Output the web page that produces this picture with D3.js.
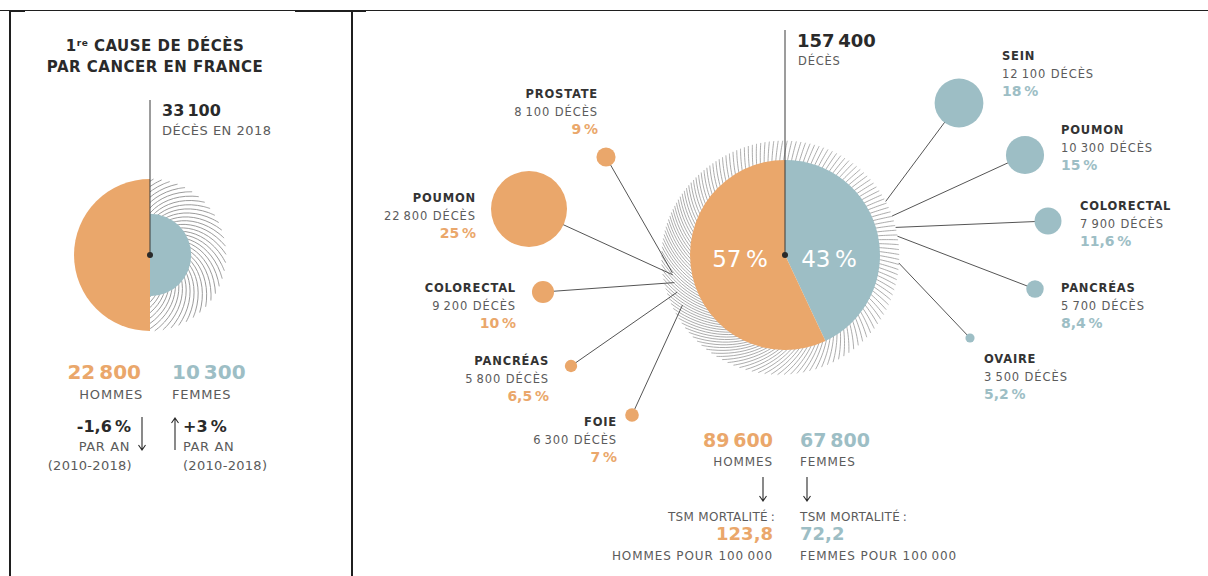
<!DOCTYPE html>
<html lang="fr">
<head>
<meta charset="utf-8">
<script src="https://cdn.jsdelivr.net/npm/d3@7"></script>
<style>
  html, body { margin: 0; padding: 0; background: #fff; }
  svg { display: block; font-family: "DejaVu Sans", sans-serif; }
</style>
</head>
<body>
<div id="chart"></div>
<script>
// ---- Données ----
// Cancer du poumon (1re cause de décès par cancer)
const poumonTotal = 33100;
const poumonSexe = [22800, 10300];          // hommes, femmes
const poumonEvolution = [-1.6, 3];          // % par an (2010-2018)

// Ensemble des décès par cancer
const totalDeces = 157400;
const sexes = ["HOMMES", "FEMMES"];
const decesSexe = [89600, 67800];
const partSexe = [57, 43];
const tsmMortalite = [123.8, 72.2];

// Principales localisations
const hommesSites = ["PROSTATE", "POUMON", "COLORECTAL", "PANCRÉAS", "FOIE"];
const hommesDeces = [8100, 22800, 9200, 5800, 6300];
const hommesPct = [9, 25, 10, 6.5, 7];
const femmesSites = ["SEIN", "POUMON", "COLORECTAL", "PANCRÉAS", "OVAIRE"];
const femmesDeces = [12100, 10300, 7900, 5700, 3500];
const femmesPct = [18, 15, 11.6, 8.4, 5.2];

// ---- Mise en page ----
const W = 1208, H = 576;
const ORANGE = "#EAA76B", BLEU = "#9DBEC5", NOIR = "#2a2a2a", GRIS = "#5b5b5b", HACH = "#909090";
const hommesPos = [[606, 157], [529, 209], [543, 292], [571, 366], [632, 415]];
const hommesAncre = [171, 170, 166, 161, 154];
const hommesTexte = [[598, 98], [476, 202], [516, 292], [549, 365], [617, 426]];
const femmesPos = [[959, 103], [1025, 155], [1048, 221], [1035, 289], [970, 338]];
const femmesAncre = [-28, -20, -14, -9.5, 4];
const femmesTexte = [[1002, 60], [1061, 134], [1080, 210], [1061, 292], [984, 363]];

const fr = d3.formatLocale({ decimal: ",", thousands: "\u202F", grouping: [3], currency: ["", " €"], minus: "-" });
const nb = fr.format(",d");
const pct = v => fr.format(".1~f")(v) + "\u202F%";
const signe = v => fr.format("+.1~f")(v) + "\u202F%";

const svg = d3.select("#chart").append("svg").attr("width", W).attr("height", H);

// ---- Cadre ----
const cadre = svg.append("g").attr("stroke", "#1f1f1f").attr("fill", "none");
cadre.append("line").attr("x1", 0).attr("x2", W).attr("y1", 10.5).attr("y2", 10.5).attr("stroke-width", 1);
[[10, 25], [295, 366]].forEach(([a, b]) =>
  cadre.append("line").attr("x1", a).attr("x2", b).attr("y1", 11).attr("y2", 11).attr("stroke-width", 2));
[10, 352].forEach(x =>
  cadre.append("line").attr("x1", x).attr("x2", x).attr("y1", 10).attr("y2", H).attr("stroke-width", 2));

// Helpers
function txt(g, x, y, s, o = {}) {
  return g.append("text").attr("x", x).attr("y", y).text(s)
    .attr("text-anchor", o.anchor || "start")
    .attr("fill", o.fill || NOIR)
    .attr("font-size", o.size || 12)
    .attr("font-weight", o.bold ? "bold" : "normal")
    .style("letter-spacing", (o.ls || 0) + "px");
}

// Traits vrillés formant la hachure autour des disques
function hachure(g, cx, cy, n, rIn, rOut, vrille, largeur) {
  const line = d3.line().curve(d3.curveCatmullRom);
  for (let i = 0; i < n; i++) {
    const th = 2 * Math.PI * i / n;
    const ro = rOut(th), tw = vrille(th);
    const pts = d3.range(0, 1.0001, 0.1).map(t => {
      const r = rIn + (ro - rIn) * t, a = th + tw * t;
      return [cx + r * Math.cos(a), cy + r * Math.sin(a)];
    });
    g.append("path").attr("d", line(pts)).attr("fill", "none")
      .attr("stroke", HACH).attr("stroke-width", largeur);
  }
}

function fleche(g, x, y1, y2) {
  const d = y2 > y1 ? -5 : 5;
  g.append("path")
    .attr("d", `M${x},${y1}L${x},${y2}M${x - 3.5},${y2 + d}L${x},${y2}L${x + 3.5},${y2 + d}`)
    .attr("fill", "none").attr("stroke", NOIR).attr("stroke-width", 1.1);
}

// ================= Panneau gauche : poumon =================
const gauche = svg.append("g");
const t1 = gauche.append("text").attr("x", 155).attr("y", 51).attr("text-anchor", "middle")
  .attr("font-size", 15).attr("font-weight", "bold").attr("fill", NOIR).style("letter-spacing", "0.5px");
t1.append("tspan").text("1");
t1.append("tspan").text("re").attr("font-size", 9).attr("dy", -5);
t1.append("tspan").text(" CAUSE DE DÉCÈS").attr("dy", 5);
txt(gauche, 155, 72, "PAR CANCER EN FRANCE", { anchor: "middle", size: 15, bold: true, ls: 0.5 });

const pc = [150, 255];
const rPoumon = d3.scalePow().exponent(0.77).domain([0, d3.max(poumonSexe)]).range([0, 76]);

// hachure sur la moitié droite
const clipG = svg.append("clipPath").attr("id", "demiDroite");
clipG.append("rect").attr("x", pc[0]).attr("y", pc[1] - 90).attr("width", 100).attr("height", 180);
const hg = gauche.append("g").attr("clip-path", "url(#demiDroite)");
hachure(hg, pc[0], pc[1], 58, rPoumon(poumonSexe[1]) - 2, () => 76, () => 0.75, 0.9);

const demi = d3.arc().innerRadius(0);
gauche.append("path").attr("transform", `translate(${pc})`)
  .attr("d", demi({ outerRadius: rPoumon(poumonSexe[0]), startAngle: Math.PI, endAngle: 2 * Math.PI }))
  .attr("fill", ORANGE);
gauche.append("path").attr("transform", `translate(${pc})`)
  .attr("d", demi({ outerRadius: rPoumon(poumonSexe[1]), startAngle: 0, endAngle: Math.PI }))
  .attr("fill", BLEU);
gauche.append("line").attr("x1", pc[0]).attr("x2", pc[0]).attr("y1", 100).attr("y2", pc[1])
  .attr("stroke", "#3a3a3a").attr("stroke-width", 1);
gauche.append("circle").attr("cx", pc[0]).attr("cy", pc[1]).attr("r", 3).attr("fill", NOIR);

txt(gauche, 162, 116, nb(poumonTotal), { size: 16, bold: true });
txt(gauche, 162, 135, "DÉCÈS EN 2018", { size: 13, fill: GRIS, ls: 0.5 });

txt(gauche, 141, 379, nb(poumonSexe[0]), { anchor: "end", size: 20, bold: true, fill: ORANGE });
txt(gauche, 172, 379, nb(poumonSexe[1]), { size: 20, bold: true, fill: BLEU });
txt(gauche, 143, 399, "HOMMES", { anchor: "end", size: 13, fill: GRIS, ls: 0.8 });
txt(gauche, 172, 399, "FEMMES", { size: 13, fill: GRIS, ls: 0.8 });

txt(gauche, 131, 432, signe(poumonEvolution[0]), { anchor: "end", size: 16, bold: true });
txt(gauche, 130, 451, "PAR AN", { anchor: "end", size: 13, fill: GRIS, ls: 0.6 });
txt(gauche, 132, 470, "(2010-2018)", { anchor: "end", size: 13, fill: GRIS, ls: 0.3 });
fleche(gauche, 142, 417, 450);

txt(gauche, 183, 432, signe(poumonEvolution[1]), { size: 16, bold: true });
txt(gauche, 183, 451, "PAR AN", { size: 13, fill: GRIS, ls: 0.6 });
txt(gauche, 183, 470, "(2010-2018)", { size: 13, fill: GRIS, ls: 0.3 });
fleche(gauche, 175, 450, 418);

// ================= Panneau droit : tous cancers =================
const droite = svg.append("g");
const C = [785, 255], R = 95;
const RANCRE = 114;

// hachure : presque radiale en haut à droite, enroulée en bas à gauche
const th0 = 3 * Math.PI / 4;
const poids = th => (1 + Math.cos(th - th0)) / 2;
hachure(droite.append("g"), C[0], C[1], 150, R - 4,
  th => 114 + 10 * Math.pow(poids(th), 2),
  th => 0.03 + 0.45 * Math.pow(poids(th), 2), 0.75);

// bulles et connecteurs
const rBulle = d3.scalePow().exponent(1.35).domain([0, 25]).range([0, 38]);
function bulles(sites, deces, parts, pos, ancres, textes, couleur, cote) {
  const g = droite.append("g");
  sites.forEach((s, i) => {
    const a = ancres[i] * Math.PI / 180;
    g.append("line")
      .attr("x1", pos[i][0]).attr("y1", pos[i][1])
      .attr("x2", C[0] + RANCRE * Math.cos(a)).attr("y2", C[1] + RANCRE * Math.sin(a))
      .attr("stroke", "#555").attr("stroke-width", 1);
    g.append("circle").attr("cx", pos[i][0]).attr("cy", pos[i][1])
      .attr("r", rBulle(parts[i])).attr("fill", couleur);
    const anchor = cote === "g" ? "end" : "start";
    const [tx, ty] = textes[i];
    txt(g, tx, ty, s, { anchor, size: 11.5, bold: true, fill: "#333", ls: 0.8 });
    txt(g, tx, ty + 18, nb(deces[i]) + " DÉCÈS", { anchor, size: 11.5, fill: GRIS, ls: 0.9 });
    txt(g, tx, ty + 36, pct(parts[i]), { anchor, size: 14, bold: true, fill: couleur, ls: 0.4 });
  });
}
bulles(hommesSites, hommesDeces, hommesPct, hommesPos, hommesAncre, hommesTexte, ORANGE, "g");
bulles(femmesSites, femmesDeces, femmesPct, femmesPos, femmesAncre, femmesTexte, BLEU, "d");

// camembert hommes / femmes
const pie = d3.pie().sort(null).value(d => d.v);
const parts = pie([{ s: "F", v: partSexe[1] }, { s: "H", v: partSexe[0] }]);
const arc = d3.arc().innerRadius(0).outerRadius(R);
droite.append("g").attr("transform", `translate(${C})`)
  .selectAll("path").data(parts).join("path")
  .attr("d", arc).attr("fill", d => d.data.s === "H" ? ORANGE : BLEU);

droite.append("line").attr("x1", C[0]).attr("x2", C[0]).attr("y1", 30).attr("y2", C[1])
  .attr("stroke", "#3a3a3a").attr("stroke-width", 1);
droite.append("circle").attr("cx", C[0]).attr("cy", C[1]).attr("r", 3).attr("fill", NOIR);
txt(droite, 740, 267, pct(partSexe[0]), { anchor: "middle", size: 23, fill: "#fff" });
txt(droite, 829, 267, pct(partSexe[1]), { anchor: "middle", size: 23, fill: "#fff" });

txt(droite, 797, 47, nb(totalDeces), { size: 18, bold: true });
txt(droite, 798, 65, "DÉCÈS", { size: 11.5, fill: GRIS, ls: 0.8 });

// bas : hommes / femmes
txt(droite, 773, 447, nb(decesSexe[0]), { anchor: "end", size: 19, bold: true, fill: ORANGE });
txt(droite, 800, 447, nb(decesSexe[1]), { size: 19, bold: true, fill: BLEU });
txt(droite, 773, 466, sexes[0], { anchor: "end", size: 12, fill: GRIS, ls: 0.9 });
txt(droite, 800, 466, sexes[1], { size: 12, fill: GRIS, ls: 0.9 });
fleche(droite, 763, 477, 501);
fleche(droite, 807, 477, 501);
txt(droite, 775, 521, "TSM MORTALITÉ\u202F:", { anchor: "end", size: 12, fill: GRIS, ls: 0.3 });
txt(droite, 800, 521, "TSM MORTALITÉ\u202F:", { size: 12, fill: GRIS, ls: 0.3 });
txt(droite, 773, 540, fr.format(".1f")(tsmMortalite[0]), { anchor: "end", size: 18, bold: true, fill: ORANGE });
txt(droite, 800, 540, fr.format(".1f")(tsmMortalite[1]), { size: 18, bold: true, fill: BLEU });
txt(droite, 773, 560, sexes[0] + " POUR " + nb(100000), { anchor: "end", size: 12, fill: GRIS, ls: 0.9 });
txt(droite, 800, 560, sexes[1] + " POUR " + nb(100000), { size: 12, fill: GRIS, ls: 0.9 });
</script>
</body>
</html>
